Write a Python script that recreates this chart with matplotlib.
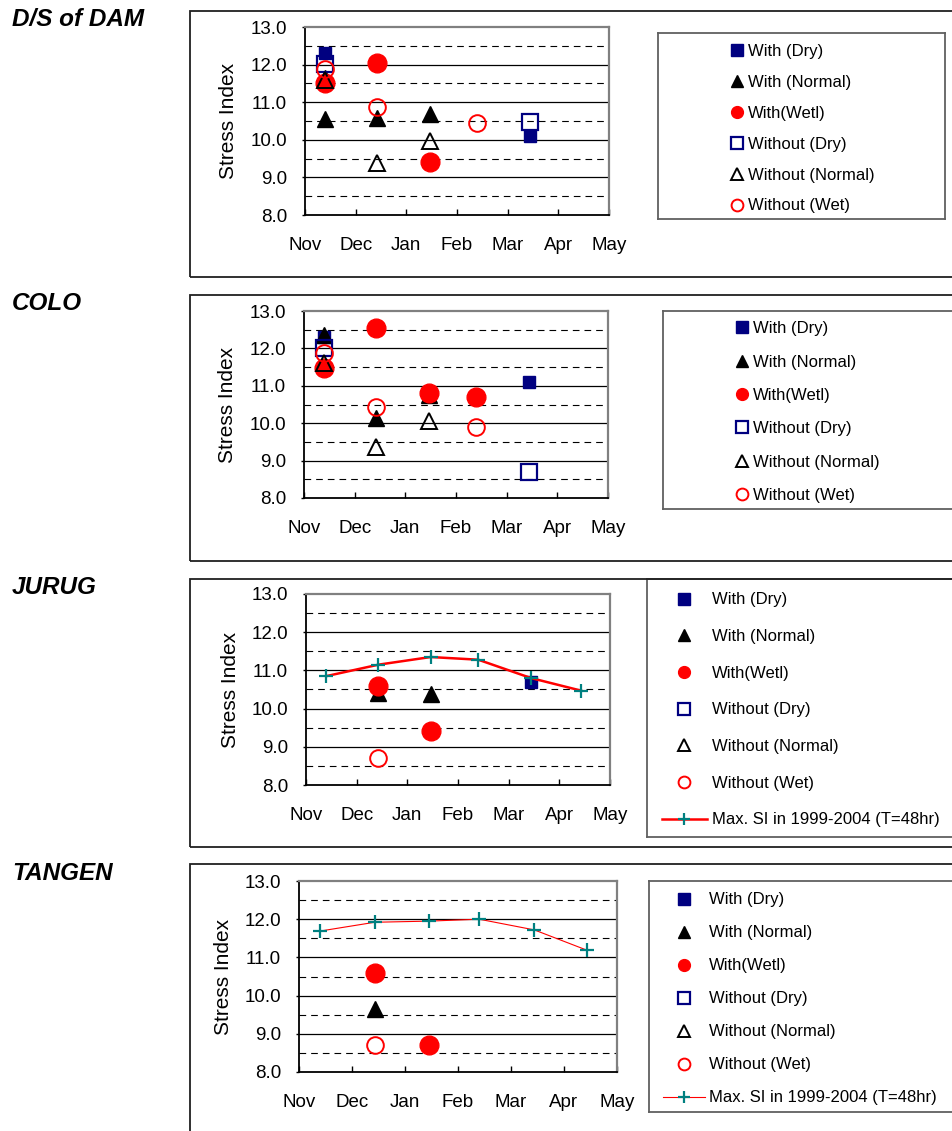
"""
Stress index by month at four stations, with / without measures
"""
import numpy as np
import matplotlib.pyplot as plt
from matplotlib.lines import Line2D
from matplotlib.patches import Rectangle

plt.rcParams['font.family'] = ['Liberation Sans', 'DejaVu Sans']

### Data
months = ['Nov', 'Dec', 'Jan', 'Feb', 'Mar', 'Apr', 'May']
# survey dates inside each month (month axis, Nov = 0)
survey_pos = {'Nov': 0.40, 'Dec': 1.43, 'Jan': 2.46, 'Feb': 3.40, 'Mar': 4.44, 'Apr': 5.43}

labels = ['With (Dry)', 'With (Normal)', 'With(Wetl)',
          'Without (Dry)', 'Without (Normal)', 'Without (Wet)']
max_label = 'Max. SI in 1999-2004 (T=48hr)'

# D/S of DAM
dam_with_dry = (['Nov', 'Mar'], [12.30, 10.10])
dam_with_normal = (['Nov', 'Nov', 'Dec', 'Jan'], [10.55, 11.65, 10.58, 10.68])
dam_with_wet = (['Nov', 'Dec', 'Jan'], [11.50, 12.05, 9.40])
dam_without_dry = (['Nov', 'Mar'], [12.02, 10.48])
dam_without_normal = (['Nov', 'Dec', 'Jan'], [11.58, 9.37, 9.98])
dam_without_wet = (['Nov', 'Dec', 'Feb'], [11.87, 10.88, 10.44])

# COLO
colo_with_dry = (['Nov', 'Mar'], [12.30, 11.10])
colo_with_normal = (['Nov', 'Dec', 'Jan'], [12.35, 10.14, 10.75])
colo_with_wet = (['Nov', 'Dec', 'Jan', 'Feb'], [11.47, 12.55, 10.82, 10.70])
colo_without_dry = (['Nov', 'Mar'], [12.00, 8.70])
colo_without_normal = (['Nov', 'Dec', 'Jan'], [11.60, 9.36, 10.06])
colo_without_wet = (['Nov', 'Dec', 'Feb'], [11.88, 10.44, 9.90])

# JURUG
jurug_with_dry = (['Mar'], [10.70])
jurug_with_normal = (['Dec', 'Jan'], [10.42, 10.37])
jurug_with_wet = (['Dec', 'Jan'], [10.59, 9.41])
jurug_without_dry = ([], [])
jurug_without_normal = ([], [])
jurug_without_wet = (['Dec'], [8.70])
jurug_max_si = (['Nov', 'Dec', 'Jan', 'Feb', 'Mar', 'Apr'], [10.85, 11.15, 11.35, 11.28, 10.80, 10.47])

# TANGEN
tangen_with_dry = ([], [])
tangen_with_normal = (['Dec'], [9.66])
tangen_with_wet = (['Dec', 'Jan'], [10.60, 8.70])
tangen_without_dry = ([], [])
tangen_without_normal = ([], [])
tangen_without_wet = (['Dec'], [8.70])
tangen_max_si = (['Nov', 'Dec', 'Jan', 'Feb', 'Mar', 'Apr'], [11.69, 11.92, 11.95, 12.00, 11.72, 11.19])


### styles
navy = '#000080'
styles = [
    dict(marker='s', ms=8.5, mfc=navy, mec=navy),
    dict(marker='^', ms=12, mfc='black', mec='black'),
    dict(marker='o', ms=13.5, mfc='red', mec='red'),
    dict(marker='s', ms=12, mfc='none', mec=navy, mew=1.6),
    dict(marker='^', ms=12, mfc='none', mec='black', mew=1.4),
    dict(marker='o', ms=12, mfc='none', mec='red', mew=1.4),
]

W, H = 952, 1131
fig = plt.figure(figsize=(W / 100, H / 100), dpi=100)


def px_axes(l, t, r, b):
    return fig.add_axes([l / W, 1 - b / H, (r - l) / W, (b - t) / H])


def setup(ax, ylab_x):
    ax.set_xlim(0, 6)
    ax.set_ylim(8, 13)
    ax.set_xticks(range(7))
    ax.set_xticklabels(months, fontsize=13.5)
    ax.set_yticks(np.arange(8, 13.1, 1))
    ax.set_yticklabels(['%.1f' % v for v in np.arange(8, 13.1, 1)], fontsize=13.5)
    for v in [9, 10, 11, 12]:
        ax.axhline(v, color='black', lw=0.9, zorder=1)
    for v in [8.5, 9.5, 10.5, 11.5, 12.5]:
        ax.axhline(v, color='black', lw=0.8, dashes=(6, 4.5), zorder=1)
    for s in ['left', 'bottom']:
        ax.spines[s].set_color('black')
        ax.spines[s].set_linewidth(1.3)
    for s in ['top', 'right']:
        ax.spines[s].set_color('#808080')
        ax.spines[s].set_linewidth(1.6)
    ax.tick_params(axis='x', direction='in', length=4, pad=16, width=1)
    ax.tick_params(axis='y', direction='out', length=2, pad=11, width=1)
    ax.set_ylabel('Stress Index', fontsize=15)
    ax.yaxis.set_label_coords(ylab_x, 0.5)


def draw(ax, series, max_si=None, max_lw=1.6):
    handles = []
    for (mon, vals), st in zip(series, styles):
        x = [survey_pos[m] for m in mon]
        h, = ax.plot(x, vals, ls='none', zorder=3, clip_on=False, **st)
        handles.append(h)
    if max_si is not None:
        x = [survey_pos[m] for m in max_si[0]]
        h, = ax.plot(x, max_si[1], color='red', lw=max_lw, marker='+', ms=10,
                     mec='#008080', mew=1.6, zorder=4)
        handles.append(h)
    return handles


def legend_box(l, t, r, b, handles, names, anchor, **kw):
    lax = px_axes(l, t, r, b)
    lax.set_xticks([])
    lax.set_yticks([])
    for s in lax.spines.values():
        s.set_color('#606060')
        s.set_linewidth(1.3)
    small = []
    for h in handles:
        hh = Line2D([], [], color=h.get_color(), lw=h.get_linewidth(),
                    ls=h.get_linestyle(), marker=h.get_marker(),
                    mfc=h.get_markerfacecolor(), mec=h.get_markeredgecolor(),
                    mew=h.get_markeredgewidth(), ms=min(h.get_markersize(), 8.5))
        small.append(hh)
    lax.legend(small, names, loc='upper left',
               bbox_to_anchor=(anchor[0] / W, 1 - anchor[1] / H),
               bbox_transform=fig.transFigure, frameon=False, borderpad=0,
               fontsize=12, **kw)


def frame(t, b, title):
    fig.add_artist(Rectangle((190 / W, 1 - b / H), (960 - 190) / W, (b - t) / H,
                             transform=fig.transFigure, fill=False,
                             ec='#202020', lw=1.3))
    fig.text(12 / W, 1 - 19 / H - (t - 10) / H, title, fontsize=17.5,
             fontweight='bold', fontstyle='italic', va='center', ha='left')


### D/S of DAM
frame(11, 277, 'D/S of DAM')
ax1 = px_axes(305, 27, 609, 215)
setup(ax1, -0.22)
h1 = draw(ax1, [dam_with_dry, dam_with_normal, dam_with_wet,
                dam_without_dry, dam_without_normal, dam_without_wet])
legend_box(658, 33, 945, 219, h1, labels, (722, 36),
           handlelength=0.75, handletextpad=0.3, labelspacing=0.95)

### COLO
frame(295, 561, 'COLO')
ax2 = px_axes(304, 311, 608, 498)
setup(ax2, -0.22)
h2 = draw(ax2, [colo_with_dry, colo_with_normal, colo_with_wet,
                colo_without_dry, colo_without_normal, colo_without_wet])
legend_box(663, 311, 960, 509, h2, labels, (727, 313),
           handlelength=0.75, handletextpad=0.3, labelspacing=1.1)

### JURUG
frame(579, 847, 'JURUG')
ax3 = px_axes(306, 594, 610, 785)
setup(ax3, -0.217)
h3 = draw(ax3, [jurug_with_dry, jurug_with_normal, jurug_with_wet,
                jurug_without_dry, jurug_without_normal, jurug_without_wet],
          jurug_max_si, max_lw=1.8)
legend_box(647, 579, 960, 837, h3, labels + [max_label], (654, 584),
           handlelength=2.65, handletextpad=0.35, labelspacing=1.3)

### TANGEN
frame(864, 1145, 'TANGEN')
ax4 = px_axes(299, 881, 617, 1072)
setup(ax4, -0.208)
h4 = draw(ax4, [tangen_with_dry, tangen_with_normal, tangen_with_wet,
                tangen_without_dry, tangen_without_normal, tangen_without_wet],
          tangen_max_si, max_lw=0.8)
legend_box(649, 881, 960, 1112, h4, labels + [max_label], (655, 884),
           handlelength=2.5, handletextpad=0.25, labelspacing=1.08)

fig.savefig('out.png', dpi=100)
